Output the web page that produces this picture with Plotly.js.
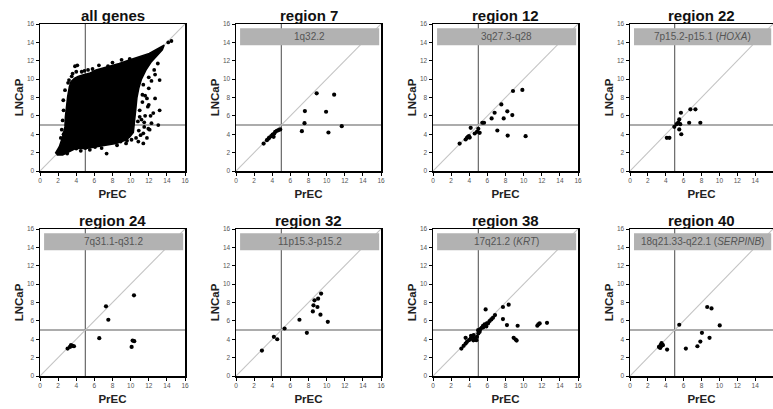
<!DOCTYPE html>
<html><head><meta charset="utf-8">
<script src="https://cdn.plot.ly/plotly-3.0.1.min.js"></script>
<style>html,body{margin:0;padding:0;background:#fff;} #chart{width:773px;height:409px;}</style>
</head><body><div id="chart"></div>
<script>
// ---------------- data ----------------
const panelTitles = ["all genes","region 7","region 12","region 22","region 24","region 32","region 38","region 40"];
const bandLabels = ["","1q32.2","3q27.3-q28","7p15.2-p15.1 (<i>HOXA</i>)","7q31.1-q31.2","11p15.3-p15.2","17q21.2 (<i>KRT</i>)","18q21.33-q22.1 (<i>SERPINB</i>)"];
const tickValues = [0,2,4,6,8,10,12,14,16];
const axisRange = [0,16];
const diagonalX = [0,16];
const diagonalY = [0,16];
const thresholdPrEC = 5;
const thresholdLNCaP = 5;
const bandY = [13.7,15.55];
const bandX = [0.45,15.8];

// all genes: outline of the dense cloud + scattered points at its edge
const cloudX = [1.69,2.13,2.5,2.75,2.8,2.9,3.05,3.24,3.42,3.79,4.2,4.71,5.44,6.18,6.9,7.65,8.75,9.86,10.96,12.06,12.8,13.35,13.7,13.5,12.8,12.3,11.7,11.2,10.9,10.7,10.6,10.5,10.4,10.3,9.9,9.49,8.39,7.28,6.18,5.08,3.97,3.24,2.5,1.84];
const cloudY = [1.92,2.64,3.73,4.8,5.91,7.0,8.1,9.17,9.72,10.08,10.3,10.44,10.63,10.99,11.17,11.35,11.7,12.08,12.44,12.8,13.2,13.53,13.7,13.2,12.44,11.9,11.0,10.0,9.0,8.0,7.0,6.0,5.0,4.2,3.7,3.37,3.0,2.82,2.64,2.46,2.46,2.1,1.74,1.74];
const allOutX = [4.12,3.86,4.6,7.5,7.2,9.9,12.7,12.3,13.2,11.8,12.7,12.5,13.2,13.05,12.3,11.95,11.4,11.4,10.85,10.1,7.35,6.07,4.0,14.15,14.5,12.87,2.57,2.76,3.1,3.5,4.4,5.3,11.6,11.9,11.2,11.5,10.9,8.9,9.6,2.6,6.0,5.0,11.0,10.8,11.3,12.0,11.1,
  11.3,11.6,12.0,11.0,11.5,12.1,10.9,10.6,11.8,12.2,11.4,12.0,12.6,13.0,3.2,3.6,4.0,4.9,5.8,6.5,8.0,9.0,5.5,6.8,8.5,9.5,4.5,3.0,2.4,2.5,2.6,2.3];
const allOutY = [11.5,11.4,10.8,11.4,11.0,12.2,10.5,9.8,9.9,7.9,7.9,6.3,6.6,5.0,5.2,4.6,4.1,3.0,3.2,3.4,1.9,2.6,2.45,14.0,14.15,12.85,7.7,8.8,9.6,10.3,9.75,11.0,6.0,7.0,5.6,4.8,9.9,3.2,3.3,4.0,2.8,2.5,6.6,5.4,8.3,9.0,3.9,
  7.5,8.2,7.2,5.9,5.3,4.5,4.4,3.6,3.6,6.0,9.4,10.2,11.0,11.7,9.9,10.6,10.8,10.9,11.1,11.5,11.8,12.1,2.3,2.5,2.8,3.0,2.2,1.9,4.5,5.5,6.6,3.6];

const r7PrEC  = [3.05,3.41,3.6,3.67,3.89,4.04,4.15,4.22,4.33,4.51,4.7,4.88,8.9,10.83,7.6,9.94,7.56,7.27,11.67,10.2];
const r7LNCaP = [2.99,3.35,3.53,3.64,3.79,3.97,3.72,4.08,4.26,4.37,4.45,4.52,8.45,8.31,6.52,6.45,5.21,4.34,4.88,4.19];

const r12PrEC  = [2.94,3.6,3.75,3.86,3.97,4.05,4.16,4.6,4.85,5.0,5.15,5.44,5.63,6.47,6.8,7.1,7.54,7.8,8.2,8.24,8.75,8.83,9.86,10.22];
const r12LNCaP = [2.99,3.43,3.61,3.72,3.79,3.64,4.7,4.08,4.26,4.59,4.15,5.25,5.25,5.72,6.34,4.41,7.25,5.72,6.49,3.86,6.09,8.71,8.82,3.79];

const r22PrEC  = [4.12,4.41,4.96,5.22,5.4,5.51,5.62,5.7,5.51,5.74,6.62,6.76,7.32,7.87];
const r22LNCaP = [3.61,3.61,4.81,5.1,5.28,5.61,5.1,6.34,4.52,4.0,5.25,6.71,6.71,5.25];

const r24PrEC  = [3.05,3.31,3.42,3.6,3.75,7.28,7.54,6.54,10.37,10.22,10.4,10.11];
const r24LNCaP = [2.99,3.17,3.35,3.28,3.24,7.58,6.12,4.12,8.78,3.86,3.79,3.17];

const r32PrEC  = [2.86,4.18,4.55,5.36,7.0,7.82,8.48,8.55,8.66,8.99,9.06,9.32,9.39,10.13];
const r32LNCaP = [2.77,4.26,4.0,5.17,6.12,4.7,7.03,7.69,8.24,7.51,8.42,6.67,8.97,5.9];

const r38PrEC  = [3.13,3.38,3.6,3.75,3.6,3.97,4.16,4.34,4.49,4.6,4.78,4.85,5.0,5.15,5.22,5.37,5.52,5.7,5.88,6.07,6.25,6.44,6.62,6.84,5.81,7.72,8.35,7.72,8.16,9.34,8.9,9.12,9.23,11.62,11.77,11.51,12.58,4.2,4.65,4.45,4.98,5.55,5.95];
const r38LNCaP = [2.99,3.28,3.53,3.72,4.15,3.9,4.08,4.26,4.45,3.97,3.9,4.26,4.63,4.81,5.1,5.25,5.47,5.61,5.39,5.72,5.98,6.16,6.34,6.63,7.25,7.51,7.76,6.2,5.54,5.47,4.15,3.97,3.86,5.61,5.72,5.47,5.79,4.37,4.1,3.88,4.99,5.3,5.72];

const r40PrEC  = [3.24,3.42,3.53,3.6,3.49,3.68,3.38,4.15,5.51,6.25,7.54,7.87,8.05,8.64,9.12,8.9,10.04];
const r40LNCaP = [3.17,3.35,3.57,3.43,3.24,3.35,3.06,2.88,5.58,2.99,3.24,3.75,4.7,7.51,7.36,4.15,5.5];

const regionX = [null,r7PrEC,r12PrEC,r22PrEC,r24PrEC,r32PrEC,r38PrEC,r40PrEC];
const regionY = [null,r7LNCaP,r12LNCaP,r22LNCaP,r24LNCaP,r32LNCaP,r38LNCaP,r40LNCaP];

// ---------------- layout ----------------
const W = 773, H = 409;
const colLeft = [40,236,433,630];
const colWidth = [145,145,145,143];
const rowTop = [24,229];
const rowHeight = 147;
const FONT = "Liberation Sans, Arial, Helvetica, sans-serif";

const traces = [];
const shapes = [];
const annotations = [];
const layout = {
  width: W, height: H,
  margin: {l:0,r:0,t:0,b:0},
  paper_bgcolor: "#ffffff", plot_bgcolor: "#ffffff",
  showlegend: false,
  font: {family: FONT}
};

for (let i = 0; i < 8; i++) {
  const col = i % 4, row = Math.floor(i / 4);
  const sfx = i === 0 ? "" : String(i + 1);
  const xa = "x" + sfx, ya = "y" + sfx;
  const x0 = colLeft[col] / W, x1 = (colLeft[col] + colWidth[col]) / W;
  const yTop = 1 - rowTop[row] / H, yBot = 1 - (rowTop[row] + rowHeight) / H;
  const common = {
    range: axisRange, tickvals: tickValues, ticks: "outside", ticklen: 3, tickwidth: 1, tickcolor: "#000",
    showline: true, linecolor: "#000", linewidth: 1.5, mirror: true,
    showgrid: false, zeroline: false, fixedrange: true,
    tickfont: {family: FONT, size: 6.5, color: "#555"}
  };
  layout["xaxis" + sfx] = Object.assign({}, common, {
    domain: [x0, Math.min(x1, 1)], anchor: ya,
    title: {text: "<b>PrEC</b>", font: {family: FONT, size: 11.5, color: "#222"}, standoff: 6}
  });
  layout["yaxis" + sfx] = Object.assign({}, common, {
    domain: [yBot, yTop], anchor: xa,
    title: {text: "<b>LNCaP</b>", font: {family: FONT, size: 11.5, color: "#222"}, standoff: 1}
  });

  // reference lines (below traces)
  shapes.push({type: "line", xref: xa, yref: ya, x0: thresholdPrEC, x1: thresholdPrEC, y0: axisRange[0], y1: axisRange[1], line: {color: "#5a5a5a", width: 1.1}, layer: "below"});
  shapes.push({type: "line", xref: xa, yref: ya, x0: axisRange[0], x1: axisRange[1], y0: thresholdLNCaP, y1: thresholdLNCaP, line: {color: "#5a5a5a", width: 1.1}, layer: "below"});
  shapes.push({type: "line", xref: xa, yref: ya, x0: diagonalX[0], x1: diagonalX[1], y0: diagonalY[0], y1: diagonalY[1], line: {color: "#c4c4c4", width: 1.1}, layer: "below"});

  if (i === 0) {
    traces.push({type: "scatter", mode: "lines", x: cloudX, y: cloudY, fill: "toself", fillcolor: "#000", line: {color: "#000", width: 1.5}, xaxis: xa, yaxis: ya, hoverinfo: "skip"});
    traces.push({type: "scatter", mode: "markers", x: allOutX, y: allOutY, marker: {color: "#000", size: 3.8}, xaxis: xa, yaxis: ya});
  } else {
    traces.push({type: "scatter", mode: "markers", x: regionX[i], y: regionY[i], marker: {color: "#000", size: 4.2}, xaxis: xa, yaxis: ya});
    shapes.push({type: "rect", xref: xa, yref: ya, x0: bandX[0], x1: bandX[1], y0: bandY[0], y1: bandY[1], fillcolor: "#b2b2b2", line: {width: 0}, layer: "above"});
    annotations.push({xref: xa, yref: ya, x: (bandX[0] + bandX[1]) / 2, y: (bandY[0] + bandY[1]) / 2, text: bandLabels[i], showarrow: false, font: {family: FONT, size: 10, color: "#555"}, xanchor: "center", yanchor: "middle"});
  }
  // panel title
  annotations.push({xref: "paper", yref: "paper", x: (colLeft[col] + colWidth[col] / 2) / W, y: 1 - (rowTop[row] - 8.5) / H, text: "<b>" + panelTitles[i] + "</b>", showarrow: false, font: {family: FONT, size: 15, color: "#111"}, xanchor: "center", yanchor: "middle"});
}
layout.shapes = shapes;
layout.annotations = annotations;

Plotly.newPlot("chart", traces, layout, {displayModeBar: false, staticPlot: true});
</script>
</body></html>
